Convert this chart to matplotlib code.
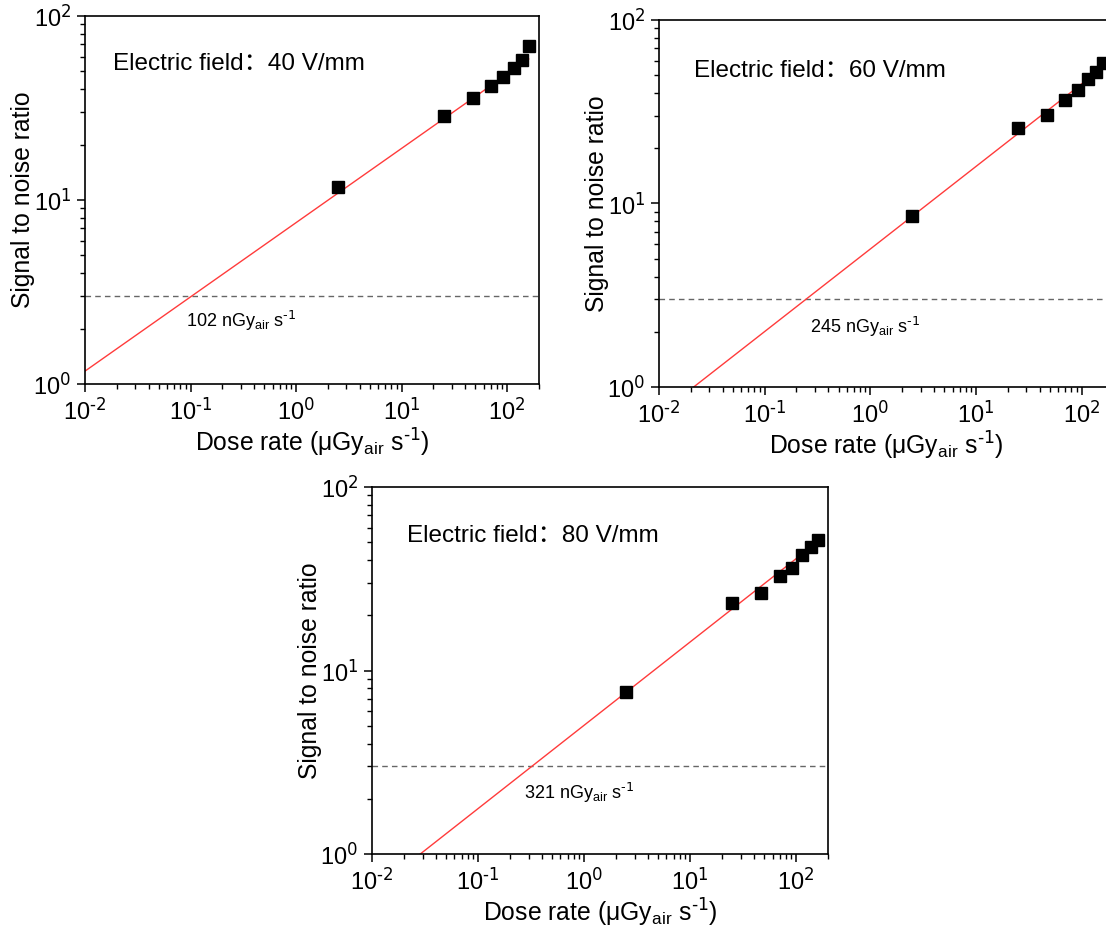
import numpy as np
import matplotlib
matplotlib.use('Agg')
import matplotlib.pyplot as plt
from matplotlib.ticker import LogLocator, NullFormatter, FuncFormatter

plt.rcParams['font.family'] = ['Liberation Sans', 'Noto Sans CJK SC', 'DejaVu Sans']
plt.rcParams['mathtext.default'] = 'regular'

# 数据
dose = [2.5, 25, 47, 70, 92, 115, 138, 160]   # μGy_air/s
snr_40 = [11.8, 28.7, 36.0, 41.8, 46.4, 52.3, 57.5, 69.1]
snr_60 = [8.57, 25.8, 30.2, 36.7, 41.5, 47.9, 51.9, 58.0]
snr_80 = [7.62, 23.2, 26.4, 32.7, 36.0, 42.5, 47.4, 51.3]

fields = ['40', '60', '80']
lod = [0.102, 0.245, 0.321]        # μGy_air/s, SNR = 3 时的剂量率
lod_text = ['102', '245', '321']   # nGy_air/s
slopes = [0.4035, 0.45, 0.454]     # 拟合直线斜率 (log-log)
threshold = 3

# 坐标轴位置 (figure fraction)
positions = [
    [0.0769, 0.5871, 0.4104, 0.3957],
    [0.5958, 0.5839, 0.4110, 0.3946],
    [0.3363, 0.0817, 0.4123, 0.3946],
]
text_pos = [(0.061, 0.87), (0.077, 0.86), (0.076, 0.867)]
lod_pos = [(0.091, 2.2), (0.27, 2.12), (0.27, 2.15)]


def pow10(v, pos):
    e = int(round(np.log10(v)))
    return r'$10^{\text{%d}}$' % e


fig = plt.figure(figsize=(11.06, 9.3), dpi=100)

for i, snr in enumerate([snr_40, snr_60, snr_80]):
    ax = fig.add_axes(positions[i])
    ax.set_xscale('log')
    ax.set_yscale('log')
    ax.set_xlim(1e-2, 200)
    ax.set_ylim(1, 100)

    # 拟合直线
    xf = np.logspace(-2, np.log10(dose[-1]), 200)
    yf = threshold * (xf / lod[i]) ** slopes[i]
    ax.plot(xf, yf, color='#ff3b3b', lw=1.0, zorder=2)

    # 阈值虚线
    ax.axhline(threshold, color='#666666', lw=1.0, ls=(0, (4, 3)), zorder=1)

    # 数据点
    ax.plot(dose, snr, 's', color='black', ms=8.5, zorder=3)

    ax.text(text_pos[i][0], text_pos[i][1], 'Electric field：' + fields[i] + ' V/mm',
            transform=ax.transAxes, fontsize=17.5, va='center', ha='left')
    ax.text(lod_pos[i][0], lod_pos[i][1],
            lod_text[i] + r' nGy$_{air}$ s$^{\text{-1}}$', fontsize=13, va='center', ha='left')

    ax.set_xlabel(r'Dose rate (μGy$_{air}$ s$^{\text{-1}}$)', fontsize=17.8, labelpad=2)
    ax.set_ylabel('Signal to noise ratio', fontsize=17.8, labelpad=-1.5)

    for axis in [ax.xaxis, ax.yaxis]:
        axis.set_major_locator(LogLocator(base=10, numticks=10))
        axis.set_major_formatter(FuncFormatter(pow10))
        axis.set_minor_locator(LogLocator(base=10, subs=np.arange(2, 10), numticks=20))
        axis.set_minor_formatter(NullFormatter())
    ax.tick_params(which='major', direction='out', length=6, width=1.1, labelsize=17, pad=4)
    ax.tick_params(which='minor', direction='out', length=3.5, width=1.0)
    for s in ax.spines.values():
        s.set_linewidth(1.2)

fig.savefig('out.png', dpi=100)
